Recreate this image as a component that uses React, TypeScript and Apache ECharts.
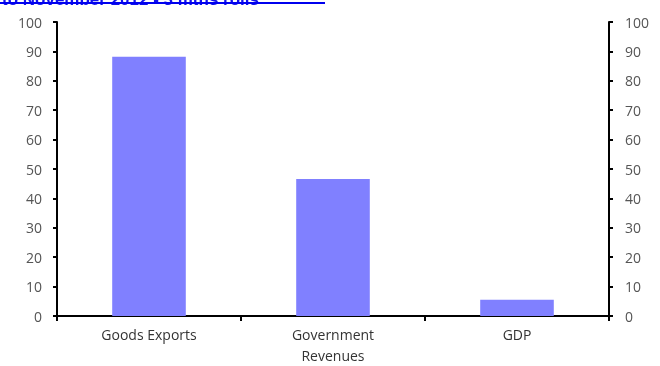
import React, { useEffect, useRef } from "react";
import * as echarts from "echarts";

const categories = ["Goods Exports", "Government\nRevenues", "GDP"];
const values = [88.2, 46.6, 5.5];
const yMin = 0;
const yMax = 100;
const yInterval = 10;
const headerText = "to November 2012 - 3 mths rolls";

export default function App() {
  const ref = useRef<HTMLDivElement>(null);
  useEffect(() => {
    if (!ref.current) return;
    const chart = echarts.init(ref.current, null, { renderer: "svg" });
    const font = "'Open Sans', Lato, sans-serif";
    const yAxisBase = (position: "left" | "right") => ({
      type: "value" as const,
      position,
      min: yMin,
      max: yMax,
      interval: yInterval,
      axisLine: { show: true, lineStyle: { color: "#000", width: 2 } },
      axisTick: { show: true, length: 4, lineStyle: { color: "#000", width: 2 } },
      splitLine: { show: false },
      axisLabel: { color: "#555", fontSize: 14, fontFamily: font, margin: position === "left" ? 15 : 16 },
    });
    chart.setOption({
      animation: false,
      grid: { left: 57, right: 51, top: 22, bottom: 47, containLabel: false },
      graphic: [
        {
          type: "text",
          left: 2,
          top: -9,
          style: { text: headerText, fill: "#1010ee", font: "bold 17px Arial, 'Liberation Sans', sans-serif" },
        },
        {
          type: "rect",
          shape: { x: 0, y: 2, width: 325, height: 2 },
          style: { fill: "#0000ee" },
        },
      ],
      xAxis: {
        type: "category",
        data: categories,
        axisLine: { show: true, lineStyle: { color: "#000", width: 2 } },
        axisTick: { show: true, length: 5, lineStyle: { color: "#000", width: 2 } },
        axisLabel: { color: "#333", fontSize: 14, fontFamily: font, margin: 8, lineHeight: 21 },
      },
      yAxis: [yAxisBase("left"), yAxisBase("right")],
      series: [
        {
          type: "bar",
          data: values,
          yAxisIndex: 0,
          barWidth: "40%",
          itemStyle: { color: "#8080ff" },
        },
      ],
    });
    return () => chart.dispose();
  }, []);
  return <div ref={ref} style={{ position: "fixed", left: 0, top: 0, width: 660, height: 366 }} />;
}
